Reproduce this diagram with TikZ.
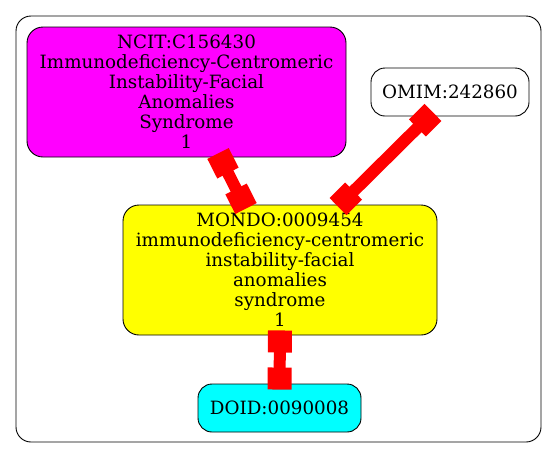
\documentclass[tikz,border=0pt]{standalone}
\usepackage{fontspec}
\setmainfont{DejaVu Serif}
\usetikzlibrary{arrows.meta}
\definecolor{nmag}{RGB}{255,0,255}
\definecolor{nyel}{RGB}{255,255,0}
\definecolor{ncya}{RGB}{0,255,255}
\definecolor{nred}{RGB}{255,0,0}
\begin{document}
\begin{tikzpicture}[x=1pt,y=-1pt,
  nd/.style={draw=black, rounded corners=16pt, align=center, font=\fontsize{18.3}{20}\selectfont, inner sep=0pt, line width=0.9pt},
  edge/.style={draw=nred, line width=12pt, {Square[length=22pt,width=24pt]}-{Square[length=22pt,width=24pt]}}]
\useasboundingbox (0,0) rectangle (557,459);
\draw[rounded corners=15pt, line width=0.9pt] (16,16) rectangle (541,442);
\node[nd, fill=nmag, minimum width=319pt, minimum height=130pt] (ncit) at (186.5,92) {NCIT:C156430\\Immunodeficiency-Centromeric\\Instability-Facial\\Anomalies\\Syndrome\\1};
\node[nd, fill=white, rounded corners=14pt, minimum width=158pt, minimum height=48pt] (omim) at (450,92) {OMIM:242860};
\node[nd, fill=nyel, minimum width=314pt, minimum height=130pt] (mondo) at (280,270) {MONDO:0009454\\immunodeficiency-centromeric\\instability-facial\\anomalies\\syndrome\\1};
\node[nd, fill=ncya, rounded corners=14pt, minimum width=163pt, minimum height=48pt] (doid) at (279.5,408) {DOID:0090008};
\draw[edge] ([shift={(31.5,-4)}]ncit.south) -- ([shift={(-34,4)}]mondo.north);
\draw[edge] ([shift={(-17,-4)}]omim.south) -- ([shift={(58,2)}]mondo.north);
\draw[edge] ([shift={(0,-5)}]mondo.south) -- ([shift={(0,6)}]doid.north);
\end{tikzpicture}
\end{document}
